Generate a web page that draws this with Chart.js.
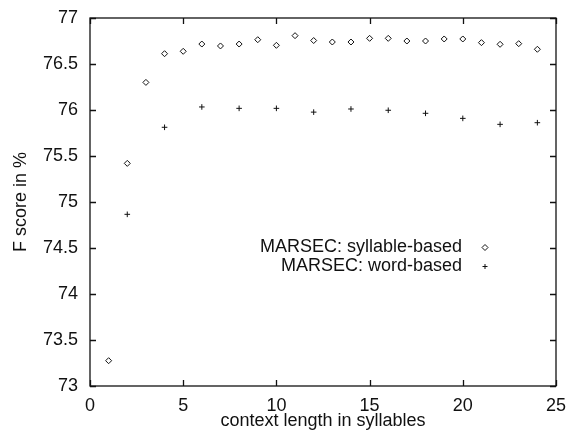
<!DOCTYPE html>
<html><head><meta charset="utf-8">
<script src="https://cdn.jsdelivr.net/npm/chart.js@4/dist/chart.umd.min.js"></script>
<style>html,body{margin:0;padding:0;background:#fff;}</style>
</head><body>
<canvas id="c" width="569" height="431"></canvas>
<script>
const syllableX = [1,2,3,4,5,6,7,8,9,10,11,12,13,14,15,16,17,18,19,20,21,22,23,24];
const syllableF = [73.275,75.42,76.30,76.612,76.638,76.717,76.696,76.717,76.764,76.703,76.808,76.755,76.739,76.739,76.779,76.779,76.75,76.75,76.772,76.772,76.732,76.714,76.721,76.66];
const wordX = [2,4,6,8,10,12,14,16,18,20,22,24];
const wordF = [74.866,75.812,76.033,76.018,76.018,75.977,76.011,75.997,75.964,75.909,75.844,75.862];
const xTicks = [0,5,10,15,20,25];
const yTicks = [73,73.5,74,74.5,75,75.5,76,76.5,77];
const seriesLabels = ['MARSEC: syllable-based','MARSEC: word-based'];
const xTitle = 'context length in syllables';
const yTitle = 'F score in %';

const FONT = {family:'"Liberation Sans", Arial, Helvetica, sans-serif', size:18};
const INK = '#111';

const framePlugin = {
  id:'frame',
  afterDraw(chart){
    const {ctx, chartArea:a, scales:{x,y}} = chart;
    ctx.save();
    ctx.strokeStyle = INK; ctx.lineWidth = 1.3;
    ctx.strokeRect(a.left, a.top, a.right-a.left, a.bottom-a.top);
    const tl = 6;
    ctx.beginPath();
    xTicks.forEach(v=>{
      const px = Math.round(x.getPixelForValue(v))+0.5;
      ctx.moveTo(px,a.bottom); ctx.lineTo(px,a.bottom-tl);
      ctx.moveTo(px,a.top); ctx.lineTo(px,a.top+tl);
    });
    yTicks.forEach(v=>{
      const py = Math.round(y.getPixelForValue(v))+0.5;
      ctx.moveTo(a.left,py); ctx.lineTo(a.left+tl,py);
      ctx.moveTo(a.right,py); ctx.lineTo(a.right-tl,py);
    });
    ctx.stroke();
    // legend
    ctx.font = `${FONT.size}px ${FONT.family}`;
    ctx.fillStyle = INK; ctx.textAlign='right'; ctx.textBaseline='middle';
    const ty = [247.5,266.5], tx = 462, mx = 485;
    seriesLabels.forEach((t,i)=>{ ctx.fillText(t, tx, ty[i]); });
    ctx.lineWidth = 1;
    ctx.beginPath();
    ctx.moveTo(mx-3,ty[0]); ctx.lineTo(mx,ty[0]-3); ctx.lineTo(mx+3,ty[0]); ctx.lineTo(mx,ty[0]+3); ctx.closePath();
    ctx.stroke();
    ctx.beginPath();
    ctx.moveTo(mx-2.5,ty[1]); ctx.lineTo(mx+2.5,ty[1]);
    ctx.moveTo(mx,ty[1]-2.5); ctx.lineTo(mx,ty[1]+2.5);
    ctx.stroke();
    ctx.restore();
  }
};

new Chart(document.getElementById('c'), {
  type:'scatter',
  data:{datasets:[
    {label:seriesLabels[0], data:syllableX.map((v,i)=>({x:v,y:syllableF[i]})),
     pointStyle:'rectRot', radius:3, borderColor:INK, backgroundColor:'#fff', borderWidth:1},
    {label:seriesLabels[1], data:wordX.map((v,i)=>({x:v,y:wordF[i]})),
     pointStyle:'cross', radius:2.8, borderColor:INK, backgroundColor:INK, borderWidth:1}
  ]},
  options:{
    responsive:false, animation:false, devicePixelRatio:1,
    layout:{padding:{top:18,right:13,left:0,bottom:0}},
    plugins:{legend:{display:false}, tooltip:{enabled:false}},
    scales:{
      x:{type:'linear', min:0, max:25,
         afterBuildTicks:s=>{s.ticks = xTicks.map(v=>({value:v}));},
         afterFit:s=>{s.height = 45; s.paddingLeft = 0; s.paddingRight = 0;},
         grid:{display:false, drawTicks:false}, border:{display:false},
         ticks:{font:FONT, color:INK, padding:9, maxRotation:0, callback:v=>String(v)},
         title:{display:true, text:xTitle, font:FONT, color:INK, padding:{top:0,bottom:-1}}},
      y:{type:'linear', min:73, max:77,
         afterBuildTicks:s=>{s.ticks = yTicks.map(v=>({value:v}));},
         afterFit:s=>{s.width = 90; s.paddingTop = 0; s.paddingBottom = 0;},
         grid:{display:false, drawTicks:false}, border:{display:false},
         ticks:{font:FONT, color:INK, padding:12, callback:v=>String(v)},
         title:{display:true, text:yTitle, font:FONT, color:INK, padding:{top:10,bottom:0}}}
    }
  },
  plugins:[framePlugin]
});
</script>
</body></html>
